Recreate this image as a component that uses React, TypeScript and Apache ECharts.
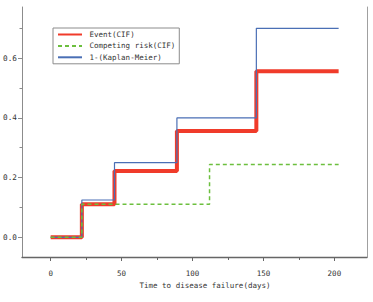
import React, { useEffect, useRef } from "react";
import * as echarts from "echarts";

// Step curves: [time (days), cumulative probability]
const eventCif: [number, number][] = [
  [0, 0], [22, 0.111], [45, 0.222], [89, 0.356], [145, 0.556], [203, 0.556],
];
const competingCif: [number, number][] = [
  [0, 0], [22, 0.111], [112, 0.244], [203, 0.244],
];
const oneMinusKm: [number, number][] = [
  [0, 0], [22, 0.125], [45, 0.25], [89, 0.4], [145, 0.7], [203, 0.7],
];

const seriesNames = ["Event(CIF)", "Competing risk(CIF)", "1-(Kaplan-Meier)"];
const xMajorTicks = [0, 50, 100, 150, 200];
const xMinorTicks = [25, 75, 125, 175];
const yMajorTicks = [0, 0.2, 0.4, 0.6];
const yMinorTicks = [0.1, 0.3, 0.5, 0.7];

const FONT = "'DejaVu Sans Mono', 'Liberation Mono', monospace";
const X_MIN = -20.2;
const X_MAX = 223;
const Y_MIN = -0.066;
const Y_MAX = 0.7715;

export default function App() {
  const ref = useRef<HTMLDivElement>(null);

  useEffect(() => {
    if (!ref.current) return;
    const chart = echarts.init(ref.current, undefined, { renderer: "svg" });
    const axisGray = "#8c8c8c";
    chart.setOption({
      animation: false,
      backgroundColor: "#ffffff",
      grid: { left: 22, right: 6, top: 7, bottom: 45, containLabel: false },
      legend: {
        orient: "vertical",
        left: 53,
        top: 28,
        data: seriesNames,
        itemWidth: 24,
        itemHeight: 8,
        itemGap: 3.4,
        itemStyle: { opacity: 0 },
        padding: [2.5, 4, 2.5, 4],
        borderColor: "#8c8c8c",
        borderWidth: 1,
        backgroundColor: "#ffffff",
        textStyle: {
          fontFamily: FONT,
          fontSize: 7.5,
          color: "#333",
          padding: [0, 0, 0, 2.5],
        },
      },
      xAxis: [
        {
          type: "value",
          min: X_MIN,
          max: X_MAX,
          name: "Time to disease failure(days)",
          nameLocation: "middle",
          nameGap: 23.5,
          nameTextStyle: {
            fontFamily: FONT,
            fontSize: 7.5,
            color: "#333",
            padding: [0, 0, 0, 21],
          },
          axisLine: { show: true, onZero: false, lineStyle: { color: "#666", width: 1.3 } },
          axisTick: { show: true, length: 4, customValues: xMajorTicks, lineStyle: { color: "#666" } },
          axisLabel: {
            customValues: xMajorTicks,
            fontFamily: FONT,
            fontSize: 7.5,
            color: "#333",
            margin: 12,
          },
          splitLine: { show: false },
        },
        {
          type: "value",
          min: X_MIN,
          max: X_MAX,
          position: "bottom",
          axisLine: { show: false, onZero: false },
          axisTick: { show: true, length: 3, customValues: xMinorTicks, lineStyle: { color: "#666" } },
          axisLabel: { show: false },
          splitLine: { show: false },
        },
      ],
      yAxis: [
        {
          type: "value",
          min: Y_MIN,
          max: Y_MAX,
          axisLine: { show: true, onZero: false, lineStyle: { color: axisGray, width: 1 } },
          axisTick: { show: true, length: 4, customValues: yMajorTicks, lineStyle: { color: axisGray } },
          axisLabel: {
            customValues: yMajorTicks,
            formatter: (v: number) => v.toFixed(1),
            fontFamily: FONT,
            fontSize: 7.7,
            color: "#333",
            margin: 5,
          },
          splitLine: { show: false },
        },
        {
          type: "value",
          min: Y_MIN,
          max: Y_MAX,
          position: "left",
          axisLine: { show: false, onZero: false },
          axisTick: { show: true, length: 2.5, customValues: yMinorTicks, lineStyle: { color: axisGray } },
          axisLabel: { show: false },
          splitLine: { show: false },
        },
        {
          type: "value",
          min: Y_MIN,
          max: Y_MAX,
          position: "right",
          axisLine: { show: true, onZero: false, lineStyle: { color: "#a0a0a0", width: 1 } },
          axisTick: { show: false },
          axisLabel: { show: false },
          splitLine: { show: false },
        },
      ],
      series: [
        {
          name: seriesNames[0],
          type: "line",
          step: "end",
          data: eventCif,
          symbol: "none",
          color: "#f03b2a",
          lineStyle: { color: "#f03b2a", width: 4 },
          z: 2,
        },
        {
          name: seriesNames[2],
          type: "line",
          step: "end",
          data: oneMinusKm,
          symbol: "none",
          color: "#4a6fb5",
          lineStyle: { color: "#4a6fb5", width: 1.2 },
          z: 3,
        },
        {
          name: seriesNames[1],
          type: "line",
          step: "end",
          data: competingCif,
          symbol: "none",
          color: "#6cbf3e",
          lineStyle: { color: "#6cbf3e", width: 1.5, type: [4, 3] },
          z: 4,
        },
      ],
    });
    return () => chart.dispose();
  }, []);

  return (
    <div
      ref={ref}
      style={{ position: "fixed", left: 0, top: 0, width: 373, height: 302 }}
    />
  );
}
